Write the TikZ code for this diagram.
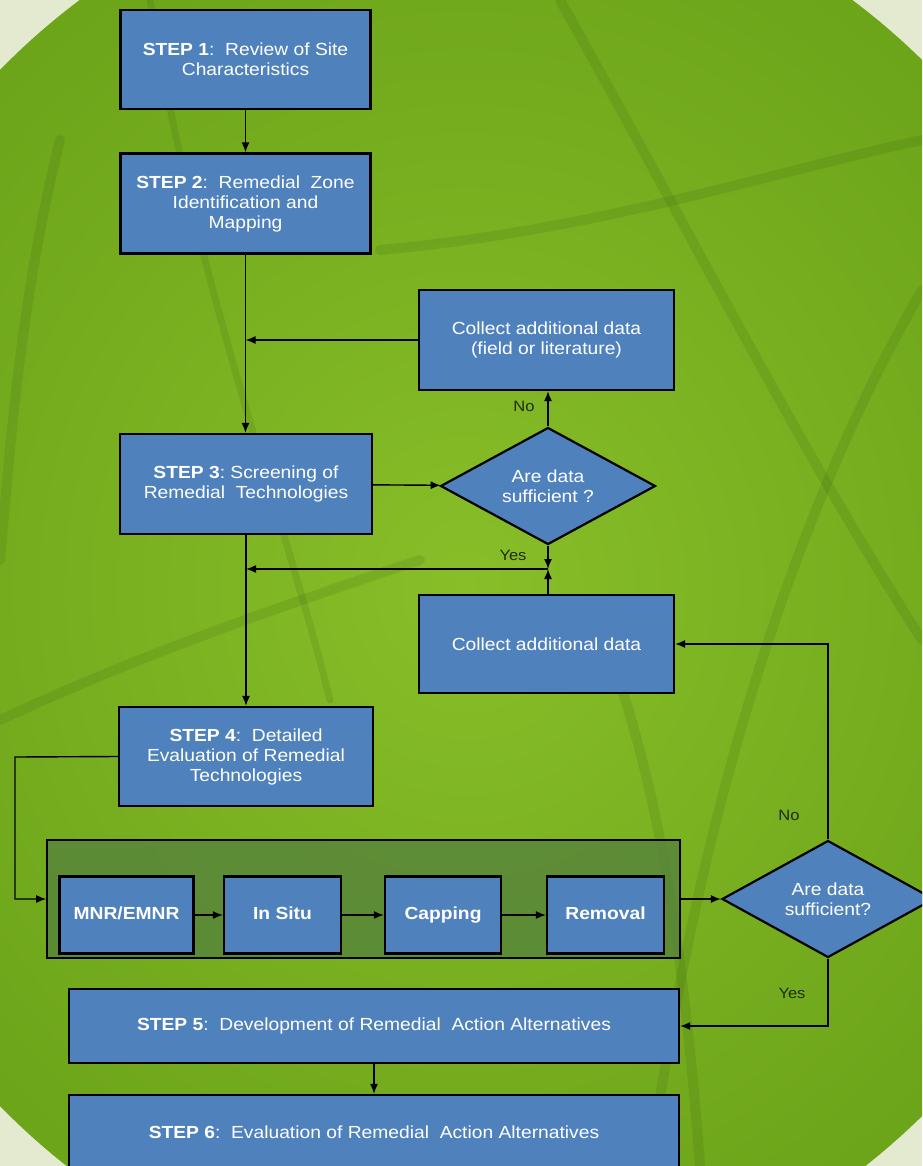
\documentclass[tikz,border=0pt]{standalone}
\usepackage{fontspec}
\setmainfont{Liberation Sans}[FakeStretch=1.1]
\usetikzlibrary{shapes.geometric,arrows.meta}
\definecolor{boxblue}{RGB}{79,129,189}
\definecolor{leaflight}{RGB}{136,190,40}
\definecolor{leafdark}{RGB}{108,164,26}
\definecolor{veingreen}{RGB}{40,80,10}
\definecolor{cream}{RGB}{228,234,208}
\definecolor{groupgreen}{RGB}{84,128,62}
\definecolor{lbltext}{RGB}{30,45,10}

\begin{document}
\begin{tikzpicture}[x=1pt,y=1pt,>={Latex[length=10pt,width=8pt]}]
\tikzstyle{every node}=[font=\fontsize{17.5}{20}\selectfont]
\tikzstyle{stepbox}=[draw=black,line width=2.2pt,fill=boxblue,text=white,align=center,inner sep=2pt]
\tikzstyle{techbox}=[stepbox,minimum height=77,text height=13pt,text depth=4pt]
\tikzstyle{askbox}=[stepbox,diamond,aspect=1.8]
\tikzstyle{lbl}=[text=lbltext,font=\fontsize{15}{17}\selectfont]
\tikzstyle{vein}=[veingreen,line width=10pt,opacity=0.13,line cap=round]
\tikzstyle{conn}=[->,black,line width=1.4pt]
\clip (0,0) rectangle (922,-1166);
\fill[cream] (0,0) rectangle (922,-1166);
\shade[inner color=leaflight,outer color=leafdark] (466,-588) ellipse (673 and 718);
\begin{scope}
\clip (466,-588) ellipse (673 and 718);
\draw[vein] (560,0) .. controls (700,-250) and (800,-450) .. (922,-640);
\draw[vein] (380,-250) .. controls (600,-230) and (780,-170) .. (922,-140);
\draw[vein] (922,-290) .. controls (800,-500) and (700,-800) .. (650,-1166);
\draw[vein] (60,-140) .. controls (20,-300) and (10,-450) .. (0,-560);
\draw[vein] (0,-720) .. controls (150,-650) and (300,-600) .. (420,-560);
\draw[vein] (590,-600) .. controls (650,-750) and (680,-900) .. (700,-1166);
\draw[vein,line width=7pt] (150,0) .. controls (200,-300) and (280,-500) .. (330,-700);
\end{scope}

\node[stepbox,minimum width=250,minimum height=99] (s1) at (245.5,-59.5) {\textbf{STEP 1}:\ \ Review of Site\\Characteristics};
\node[stepbox,minimum width=250,minimum height=100] (s2) at (245.5,-203.5) {\textbf{STEP 2}:\ \ Remedial\ \ Zone\\Identification and\\Mapping};
\node[stepbox,minimum width=255,minimum height=100] (cf) at (546.5,-340) {Collect additional data\\(field or literature)};
\node[stepbox,minimum width=252,minimum height=100] (s3) at (246,-484) {\textbf{STEP 3}:\ Screening of\\Remedial\ \ Technologies};
\node[askbox,minimum width=215,minimum height=117] (d1) at (548,-486) {Are data\\sufficient ?};
\node[stepbox,minimum width=255,minimum height=98] (cd) at (546.5,-644) {Collect additional data};
\node[stepbox,minimum width=254,minimum height=99] (s4) at (246,-756.5) {\textbf{STEP 4}:\ \ Detailed\\Evaluation of Remedial\\Technologies};
\node[draw=black,line width=1.6pt,fill=groupgreen,fill opacity=0.75,minimum width=633,minimum height=118] (grp) at (363.5,-899) {};
\node[techbox,minimum width=134] (b1) at (126.5,-915) {\textbf{MNR/EMNR}};
\node[techbox,minimum width=117] (b2) at (282.5,-915) {\textbf{In Situ}};
\node[techbox,minimum width=116] (b3) at (443,-915) {\textbf{Capping}};
\node[techbox,minimum width=117] (b4) at (605.5,-915) {\textbf{Removal}};
\node[askbox,minimum width=212,minimum height=117] (d2) at (828,-899) {Are data\\sufficient?};
\node[stepbox,minimum width=610,minimum height=74] (s5) at (374,-1026) {\textbf{STEP 5}:\ \ Development of Remedial\ \ Action Alternatives};
\node[stepbox,minimum width=610,minimum height=74] (s6) at (374,-1132) {\textbf{STEP 6}:\ \ Evaluation of Remedial\ \ Action Alternatives};

\node[lbl] (no1) at (524,-406) {No};
\node[lbl] (yes1) at (513,-555) {Yes};
\node[lbl] (no2) at (789,-815) {No};
\node[lbl] (yes2) at (792,-993) {Yes};

\coordinate (j1) at (548,-569);
\coordinate (k1) at (15,-757);

\draw[conn] (s1) -- (s2);
\draw[conn] (s2.south) -- (s2.south |- s3.north);
\draw[conn] (cf.west) -- (cf.west -| s2.south);
\draw[conn] (s3) -- (d1);
\draw[conn] (d1.north) -- (d1.north |- cf.south);
\draw[conn] (d1.south) -- (j1);
\draw[conn] (j1 |- cd.north) -- (j1);
\draw[conn] (j1) -- (j1 -| s3.south);
\draw[conn] (s3) -- (s4);
\draw[conn] (s4.west) -- (k1) |- (grp.west);
\draw[conn] (b1) -- (b2);
\draw[conn] (b2) -- (b3);
\draw[conn] (b3) -- (b4);
\draw[conn] (grp) -- (d2);
\draw[conn] (d2.north) |- (cd.east);
\draw[conn] (d2.south) |- (s5.east);
\draw[conn] (s5.south) -- (s5.south |- s6.north);
\end{tikzpicture}
\end{document}
